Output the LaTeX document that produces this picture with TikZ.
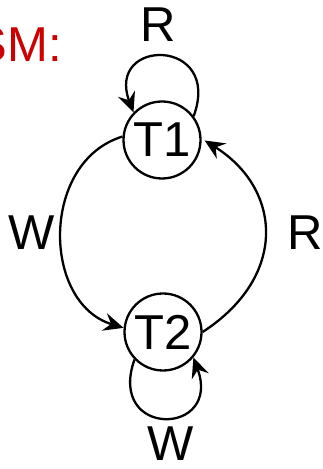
\documentclass[tikz,border=0pt]{standalone}
\usepackage{fontspec}
\setmainfont{Liberation Sans}
\usetikzlibrary{arrows.meta}
\definecolor{fsmred}{RGB}{204,0,0}
\begin{document}
\begin{tikzpicture}[x=1bp,y=1bp,
  txt/.style={font=\fontsize{49bp}{58bp}\selectfont, inner sep=0pt},
  state/.style={circle, draw, line width=2.3bp, minimum size=77bp, inner sep=0pt, font=\fontsize{49bp}{58bp}\selectfont},
  conn/.style={line width=2.3bp, -{Stealth[length=20bp, width=18bp, inset=7bp]}}]
\useasboundingbox (0,0) rectangle (322,469);
\node[state] (T1) at (162,329) {T1};
\node[state] (T2) at (163,137) {T2};
\node[txt, text=fsmred, anchor=east] (title) at (62,424) {SM:};
\node[txt] (lR1) at (158,444) {R};
\node[txt] (lW1) at (32,236) {W};
\node[txt] (lR2) at (305,236) {R};
\node[txt] (lW2) at (171,25) {W};
% self loop on T1
\draw[conn] (T1.37) .. controls +(29,79) and +(-28,75) .. (T1.136);
% self loop on T2
\draw[conn] (T2.224) .. controls +(-28,-79) and +(29,-79) .. (T2.320);
% W arc T1 -> T2
\draw[conn] (T1.175) .. controls +(-82,-25) and +(-82,25) .. (T2.174);
% R arc T2 -> T1
\draw[conn, shorten >=3.5bp] (T2.0) .. controls +(86,56) and +(80,-50) .. (T1.2);
\end{tikzpicture}
\end{document}
